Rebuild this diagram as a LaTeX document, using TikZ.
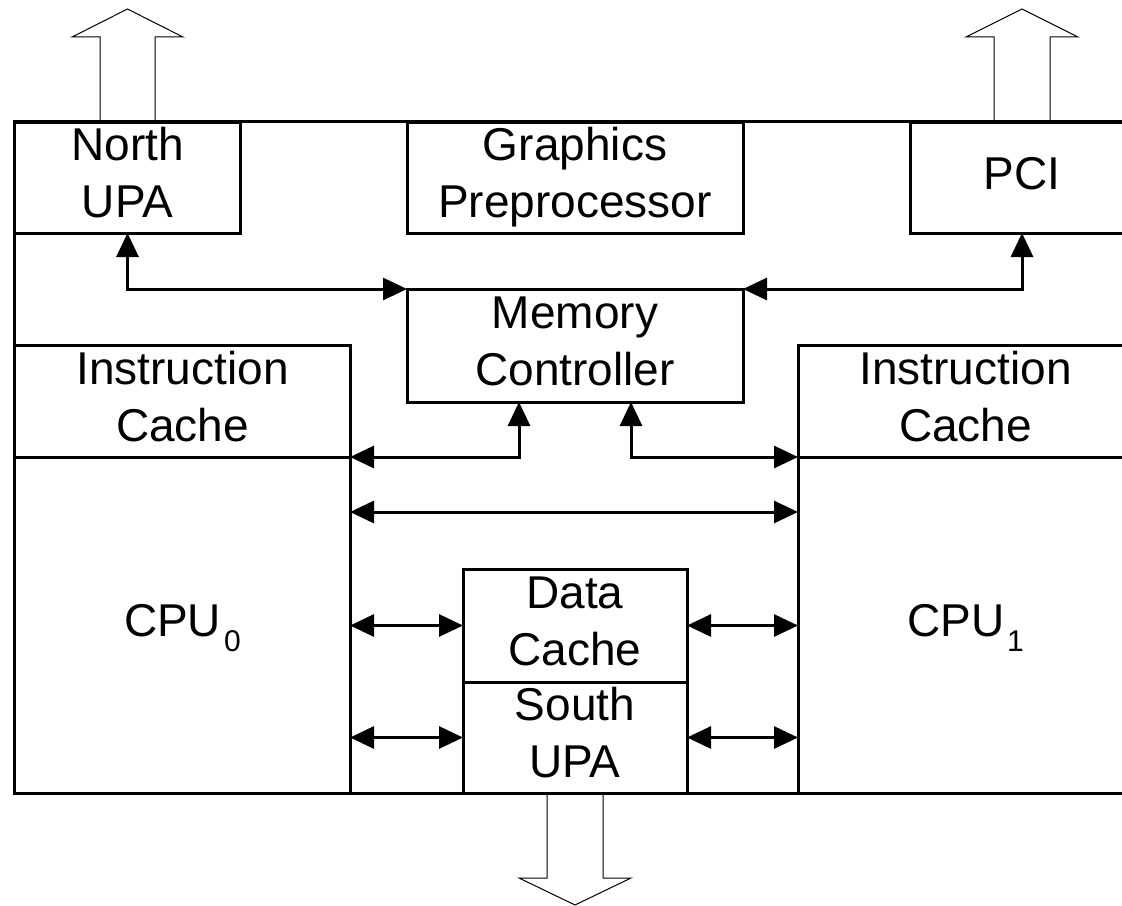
\documentclass[tikz,border=0pt]{standalone}
\usepackage{fontspec}
\setmainfont{Liberation Sans}
\usetikzlibrary{arrows.meta,calc}
% invisible strut giving every text line the same height and depth
\newcommand\linestrut{\rule[-10bp]{0pt}{43bp}}
% lowered index after "CPU"
\newcommand\cpusub[1]{\kern3bp\smash{\raisebox{-15bp}{\fontsize{30bp}{30bp}\selectfont #1}}}

\begin{document}
\begin{tikzpicture}[x=1bp,y=-1bp,
  unit/.style={draw, line width=3bp, inner sep=0pt, outer sep=0pt,
    align=center, font=\fontsize{46bp}{57bp}\selectfont},
  link/.style={line width=3bp,
    {Triangle[length=24bp,width=22bp]}-{Triangle[length=24bp,width=22bp]}},
  port/.style={line width=1bp, line join=miter}]
\useasboundingbox (0,0) rectangle (1122,906);
\clip (0,0) rectangle (1122,906);

% chip outline
\node[unit, minimum width=1140bp, minimum height=671bp] (board) at (585,457.5) {};

% functional units
\node[unit, minimum width=225bp, minimum height=111bp] (nupa) at (127.5,177.5) {North\linestrut\\UPA\linestrut};
\node[unit, minimum width=336bp, minimum height=111bp] (gpp) at (575,177.5) {Graphics\linestrut\\Preprocessor\linestrut};
\node[unit, minimum width=224bp, minimum height=111bp] (pci) at (1022,177.5) {PCI\linestrut};
\node[unit, minimum width=336bp, minimum height=113bp] (mc) at (575,345.5) {Memory\linestrut\\Controller\linestrut};
\node[unit, minimum width=335bp, minimum height=112bp] (ic0) at (182.5,401) {Instruction\linestrut\\Cache\linestrut};
\node[unit, minimum width=335bp, minimum height=336bp] (cpu0) at (182.5,625) {CPU\cpusub{0}\linestrut};
\node[unit, minimum width=335bp, minimum height=112bp] (ic1) at (965.5,401) {Instruction\linestrut\\Cache\linestrut};
\node[unit, minimum width=335bp, minimum height=336bp] (cpu1) at (965.5,625) {CPU\cpusub{1}\linestrut};
\node[unit, minimum width=224bp, minimum height=113bp] (dc) at (575,625.5) {Data\linestrut\\Cache\linestrut};
\node[unit, minimum width=224bp, minimum height=111bp] (su) at (575,737.5) {South\linestrut\\UPA\linestrut};

% internal buses
\draw[link] (mc.north west) -| (nupa.south);
\draw[link] (mc.north east) -| (pci.south);
\draw[link] ([xshift=-56bp]mc.south) |- (ic0.south east);
\draw[link] ([xshift=56bp]mc.south) |- (ic1.south west);
\draw[link] ([yshift=-55bp]cpu0.north east) -- ([yshift=-55bp]cpu1.north west);
\draw[link] (dc.west -| cpu0.east) -- (dc.west);
\draw[link] (dc.east) -- (dc.east -| cpu1.west);
\draw[link] (su.west -| cpu0.east) -- (su.west);
\draw[link] (su.east) -- (su.east -| cpu1.west);

% external ports
\draw[port] ($(nupa.north)+(-27.5,0)$) -- ++(0,-85) -- ++(-28,0) -- ++(55.5,-28)
  -- ++(55.5,28) -- ++(-28,0) -- ++(0,85);
\draw[port] ($(pci.north)+(-28,0)$) -- ++(0,-85) -- ++(-28,0) -- ++(56,-28)
  -- ++(56,28) -- ++(-28,0) -- ++(0,85);
\draw[port] ($(su.south)+(-28,0)$) -- ++(0,85) -- ++(-28,0) -- ++(56,27)
  -- ++(56,-27) -- ++(-28,0) -- ++(0,-85);
\end{tikzpicture}
\end{document}
